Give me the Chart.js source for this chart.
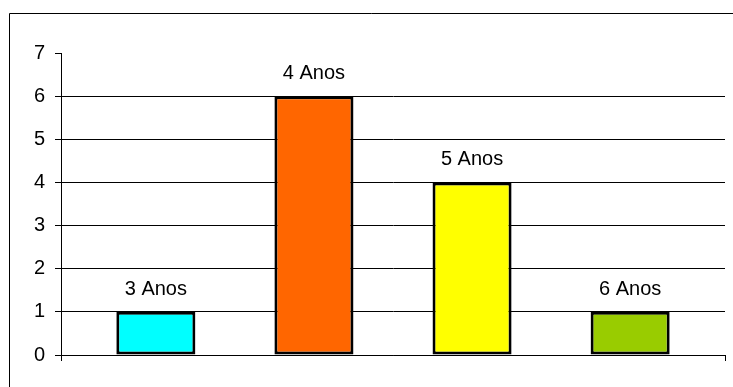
<!DOCTYPE html>
<html>
<head>
<meta charset="utf-8">
<script src="https://cdn.jsdelivr.net/npm/chart.js@4/dist/chart.umd.min.js"></script>
<style>
  html, body { margin: 0; padding: 0; background: #fff; }
  #wrap { width: 733px; height: 387px; position: relative; }
</style>
</head>
<body>
<div id="wrap"><canvas id="idadeChart"></canvas></div>
<script>
// --- Data ---
const categories = ['3 Anos', '4 Anos', '5 Anos', '6 Anos'];
const counts = [1, 6, 4, 1];
const barColors = ['#00FFFF', '#FF6600', '#FFFF00', '#99CC00'];
const yTicks = [0, 1, 2, 3, 4, 5, 6, 7];

const FONT = 'Arial, "Liberation Sans", sans-serif';

// Frame line along the top and left of the figure
const framePlugin = {
  id: 'frame',
  beforeDraw(chart) {
    const ctx = chart.ctx;
    ctx.save();
    ctx.fillStyle = '#fff';
    ctx.fillRect(0, 0, chart.width, chart.height);
    ctx.strokeStyle = '#000';
    ctx.lineWidth = 1;
    ctx.beginPath();
    ctx.moveTo(9.5, chart.height);
    ctx.lineTo(9.5, 13.5);
    ctx.lineTo(chart.width, 13.5);
    ctx.stroke();
    ctx.restore();
  }
};

// Category name written above each bar
const barLabelPlugin = {
  id: 'barLabels',
  afterDatasetsDraw(chart) {
    const ctx = chart.ctx;
    const meta = chart.getDatasetMeta(0);
    ctx.save();
    ctx.font = '20px ' + FONT;
    ctx.fillStyle = '#000';
    ctx.textAlign = 'center';
    ctx.textBaseline = 'alphabetic';
    meta.data.forEach((bar, i) => {
      ctx.fillText(categories[i], bar.x, bar.y - 17);
    });
    ctx.restore();
  }
};

new Chart(document.getElementById('idadeChart').getContext('2d'), {
  type: 'bar',
  data: {
    datasets: [{
      data: counts.map((v, i) => ({ x: i, y: v })),
      backgroundColor: barColors,
      borderColor: '#000',
      borderWidth: 3,
      borderSkipped: false,
      barPercentage: 0.5,
      categoryPercentage: 1.0
    }]
  },
  options: {
    responsive: true,
    maintainAspectRatio: false,
    animation: false,
    layout: { padding: { top: 53, right: 8, bottom: 26, left: 0 } },
    plugins: { legend: { display: false }, tooltip: { enabled: false } },
    scales: {
      x: {
        type: 'linear',
        min: -0.6,
        max: 3.6,
        offset: false,
        afterBuildTicks: scale => { scale.ticks = [{ value: -0.6 }, { value: 3.6 }]; },
        ticks: { display: false },
        grid: { offset: false, drawOnChartArea: false, drawTicks: true, tickLength: 6, color: '#000' },
        border: { display: true, color: '#000', width: 1 }
      },
      y: {
        min: 0,
        max: 7,
        afterBuildTicks: scale => { scale.ticks = yTicks.map(v => ({ value: v })); },
        afterFit: scale => { scale.width = 61; },
        ticks: {
          stepSize: 1,
          padding: 10,
          color: '#000',
          font: { family: FONT, size: 20 }
        },
        grid: {
          color: c => (c.tick && c.tick.value === 7) ? 'rgba(0,0,0,0)' : '#000',
          tickColor: '#000',
          tickLength: 6,
          lineWidth: 1
        },
        border: { display: true, color: '#000', width: 1 }
      }
    }
  },
  plugins: [framePlugin, barLabelPlugin]
});
</script>
</body>
</html>
